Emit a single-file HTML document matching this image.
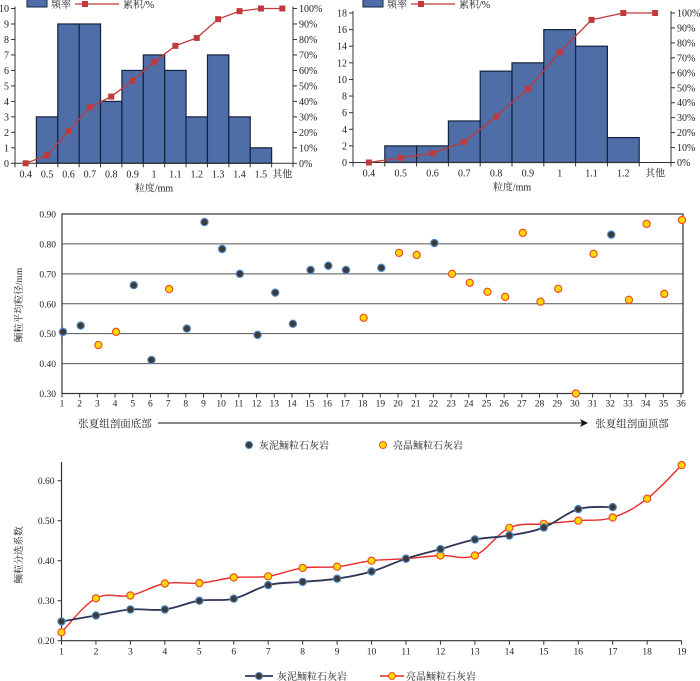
<!DOCTYPE html>
<html><head><meta charset="utf-8">
<style>
html,body{margin:0;padding:0;background:#fff;}
svg{display:block;font-family:"Liberation Serif","Noto Serif CJK SC",serif;}
</style></head>
<body>
<svg id="c" width="700" height="681" viewBox="0 0 700 681"></svg>
<script>
// ---------- data ----------
const h1Cats = ["0.4","0.5","0.6","0.7","0.8","0.9","1","1.1","1.2","1.3","1.4","1.5","其他"];
const h1Freq = [0,3,9,9,4,6,7,6,3,7,3,1,0];
const h1Cum = [0,5.2,20.7,36.2,43.1,53.4,65.5,75.9,81,93.1,98.3,100,100];
const h1LeftTicks = [0,1,2,3,4,5,6,7,8,9,10];
const h2Cats = ["0.4","0.5","0.6","0.7","0.8","0.9","1","1.1","1.2","其他"];
const h2Freq = [0,2,2,5,11,12,16,14,3,0];
const h2Cum = [0,3.1,6.2,13.8,30.8,49.2,73.8,95.4,100,100];
const h2LeftTicks = [0,2,4,6,8,10,12,14,16,18];
const pctTicks = [0,10,20,30,40,50,60,70,80,90,100];
const scIdx = [1,2,3,4,5,6,7,8,9,10,11,12,13,14,15,16,17,18,19,20,21,22,23,24,25,26,27,28,29,30,31,32,33,34,35,36];
const scVal = [0.506,0.527,0.462,0.506,0.662,0.412,0.649,0.517,0.873,0.783,0.70,0.496,0.637,0.533,0.713,0.727,0.713,0.553,0.72,0.77,0.763,0.803,0.70,0.67,0.64,0.623,0.837,0.607,0.65,0.30,0.767,0.831,0.613,0.867,0.633,0.88];
const scType = ["g","g","o","o","g","g","o","g","g","g","g","g","g","g","g","g","g","o","g","o","o","g","o","o","o","o","o","o","o","o","o","g","o","o","o","o"];
const scTicks = [0.30,0.40,0.50,0.60,0.70,0.80,0.90];
const grayLine = [0.248,0.263,0.278,0.278,0.30,0.305,0.339,0.347,0.355,0.373,0.405,0.429,0.453,0.463,0.483,0.529,0.534];
const redLine = [0.221,0.306,0.313,0.343,0.344,0.358,0.361,0.382,0.385,0.40,0.405,0.413,0.413,0.482,0.492,0.50,0.508,0.555,0.639];
const lnTicks = [0.20,0.30,0.40,0.50,0.60];

const svg = document.getElementById('c');
const NS = "http://www.w3.org/2000/svg";
function mk(tag, attrs, parent){const e=document.createElementNS(NS,tag);for(const k in attrs)e.setAttribute(k,attrs[k]);(parent||svg).appendChild(e);return e;}
function txt(s,x,y,size,anchor,parent){const t=mk('text',{x:x,y:y,'font-size':size,'text-anchor':anchor||'middle',fill:'#222'},parent);t.textContent=s;return t;}

// ---------- histogram ----------
function hist(o){
  const g=mk('g',{});
  
  
  const n=o.cats.length, slot=(o.x1-o.x0)/n;
  const xc=i=>o.x0+slot*(i+0.5);
  const yL=v=>o.yb-(v/o.maxL)*(o.yb-o.yt);
  const yR=v=>o.yb-(v/100)*(o.yb-o.yt);
  o.freq.forEach((v,i)=>{ if(v<=0)return;
    const r=mk('rect',{x:xc(i)-slot/2,y:yL(v),width:slot,height:o.yb-yL(v),fill:'#4f6ea8',stroke:'#15223d','stroke-width':1.2},g);
    
    
  });
  mk('line',{x1:o.x0,y1:o.yt-2,x2:o.x0,y2:o.yb,stroke:'#333'},g);
  mk('line',{x1:o.x1,y1:o.yt-2,x2:o.x1,y2:o.yb,stroke:'#333'},g);
  mk('line',{x1:o.x0,y1:o.yb,x2:o.x1,y2:o.yb,stroke:'#333'},g);
  o.leftTicks.forEach(v=>{mk('line',{x1:o.x0-4,y1:yL(v),x2:o.x0,y2:yL(v),stroke:'#333'},g);txt(String(v),o.x0-6,yL(v)+3.5,10,'end',g);});
  pctTicks.forEach(v=>{mk('line',{x1:o.x1,y1:yR(v),x2:o.x1+4,y2:yR(v),stroke:'#333'},g);txt(v+'%',o.x1+6,yR(v)+3.5,10,'start',g);});
  for(let i=0;i<=n;i++){mk('line',{x1:o.x0+slot*i,y1:o.yb,x2:o.x0+slot*i,y2:o.yb+4,stroke:'#333'},g);}
  o.cats.forEach((c,i)=>txt(c,xc(i),o.yb+14,10,'middle',g));
  const pts=o.cum.map((v,i)=>xc(i)+','+yR(v)).join(' ');
  const pl=mk('polyline',{points:pts,fill:'none',stroke:'#c0393b','stroke-width':1.3},g);
  
  
  o.cum.forEach((v,i)=>{const r=mk('rect',{x:xc(i)-3,y:yR(v)-3,width:6,height:6,fill:'#c0393b'},g);
    
    });
  const xt=txt('粒度/mm',(o.x0+o.x1)/2,o.yb+28,10,'middle',g);
  
  
  // legend
  const lg=mk('g',{},g);
  
  
  mk('rect',{x:o.lx,y:-1,width:20,height:8,fill:'#4f6ea8',stroke:'#15223d'},lg);
  txt('频率',o.lx+24,8,10,'start',lg);
  mk('line',{x1:o.lx+48,y1:4,x2:o.lx+92,y2:4,stroke:'#c0393b','stroke-width':1.3},lg);
  mk('rect',{x:o.lx+55,y:1,width:6,height:6,fill:'#c0393b'},lg);
  txt('累积/%',o.lx+96,8,10,'start',lg);
}
hist({name:'histogram-left',cats:h1Cats,freq:h1Freq,cum:h1Cum,leftTicks:h1LeftTicks,maxL:10,x0:15,x1:293,yt:8.5,yb:163.3,lx:27});
hist({name:'histogram-right',cats:h2Cats,freq:h2Freq,cum:h2Cum,leftTicks:h2LeftTicks,maxL:18,x0:353,x1:671,yt:13,yb:162.5,lx:363});

// ---------- scatter ----------
(function(){
  const g=mk('g',{});
  
  
  const x0=62,x1=683,yt=214,yb=393.5;
  const xs=i=>62+(i-1)*(681-62)/35;
  const ys=v=>yb-(v-0.30)/0.60*(yb-yt);
  scTicks.forEach(v=>{
    if(v>0.31&&v<0.89) mk('line',{x1:x0,y1:ys(v),x2:x1,y2:ys(v),stroke:'#555','stroke-width':1},g);
    txt(v.toFixed(2),x0-6,ys(v)+3.5,9.5,'end',g);
  });
  mk('rect',{x:x0,y:yt,width:x1-x0,height:yb-yt,fill:'none',stroke:'#333','stroke-width':1.2},g);
  scIdx.forEach(i=>{mk('line',{x1:xs(i),y1:yb,x2:xs(i),y2:yb+4,stroke:'#333'},g);txt(String(i),xs(i),yb+13,9.5,'middle',g);});
  scIdx.forEach((i,k)=>{
    const gr=scType[k]==='g';
    const c=mk('circle',{cx:xs(i)+1,cy:ys(scVal[k]),r:3.6,fill:gr?'#3f3a33':'#ffd800',stroke:gr?'#4a86c8':'#e8542a','stroke-width':1.2},g);
    
    
  });
  const yt2=txt('鲕粒平均粒径/mm',0,0,9.5,'middle',g);
  yt2.setAttribute('transform','translate(22,305) rotate(-90)');
  
  
  txt('张夏组剖面底部',115,427,10.5,'middle',g);
  mk('line',{x1:158,y1:423,x2:582,y2:423,stroke:'#111','stroke-width':1},g);
  mk('polygon',{points:'588,423 580,419 582,423 580,427',fill:'#111'},g);
  txt('张夏组剖面顶部',632,427,10.5,'middle',g);
  mk('circle',{cx:249,cy:445,r:3.5,fill:'#3f3a33',stroke:'#4a86c8'},g);
  txt('灰泥鲕粒石灰岩',259,449,10,'start',g);
  mk('circle',{cx:383,cy:445,r:3.5,fill:'#ffd800',stroke:'#e8542a'},g);
  txt('亮晶鲕粒石灰岩',393,449,10,'start',g);
})();

// ---------- line chart ----------
(function(){
  const g=mk('g',{});
  
  
  const x0=61.5,yb=640.7,yt=462;
  const xs=i=>61.5+i*(681.6-61.5)/18;
  const ys=v=>yb-(v-0.20)/0.10*40;
  mk('line',{x1:x0,y1:yt,x2:x0,y2:yb,stroke:'#333','stroke-width':1.2},g);
  mk('line',{x1:x0,y1:yb,x2:xs(18),y2:yb,stroke:'#333','stroke-width':1.2},g);
  lnTicks.forEach(v=>{mk('line',{x1:x0-4,y1:ys(v),x2:x0,y2:ys(v),stroke:'#333'},g);txt(v.toFixed(2),x0-7,ys(v)+3.5,9.5,'end',g);});
  for(let i=0;i<19;i++){mk('line',{x1:xs(i),y1:yb,x2:xs(i),y2:yb+4,stroke:'#333'},g);txt(String(i+1),xs(i),yb+14,9.5,'middle',g);}
  function smooth(vals){
    const p=vals.map((v,i)=>[xs(i),ys(v)]);
    let d='M'+p[0][0]+','+p[0][1];
    for(let i=0;i<p.length-1;i++){
      const a=p[i-1]||p[i],b=p[i],c=p[i+1],e=p[i+2]||c;
      const t=0.18;
      d+=' C'+(b[0]+(c[0]-a[0])*t)+','+(b[1]+(c[1]-a[1])*t)+' '+(c[0]-(e[0]-b[0])*t)+','+(c[1]-(e[1]-b[1])*t)+' '+c[0]+','+c[1];
    }
    return d;
  }
  const lr=mk('path',{d:smooth(redLine),fill:'none',stroke:'#e82a2a','stroke-width':1.4},g);
  
  
  const lg=mk('path',{d:smooth(grayLine),fill:'none',stroke:'#2f3557','stroke-width':1.8},g);
  
  
  redLine.forEach((v,i)=>{const c=mk('circle',{cx:xs(i),cy:ys(v),r:3.6,fill:'#ffd800',stroke:'#e8542a','stroke-width':1.2},g);
    
    });
  grayLine.forEach((v,i)=>{const c=mk('circle',{cx:xs(i),cy:ys(v),r:3.6,fill:'#3f3a33',stroke:'#4a86c8','stroke-width':1.2},g);
    
    });
  const yt2=txt('鲕粒分选系数',0,0,9.5,'middle',g);
  yt2.setAttribute('transform','translate(22,555) rotate(-90)');
  
  
  mk('line',{x1:245,y1:676,x2:273,y2:676,stroke:'#2f3557','stroke-width':1.8},g);
  mk('circle',{cx:259,cy:676,r:3.5,fill:'#3f3a33',stroke:'#4a86c8'},g);
  txt('灰泥鲕粒石灰岩',277,680,10,'start',g);
  mk('line',{x1:380,y1:676,x2:404,y2:676,stroke:'#e82a2a','stroke-width':1.4},g);
  mk('circle',{cx:392,cy:676,r:3.5,fill:'#ffd800',stroke:'#e8542a'},g);
  txt('亮晶鲕粒石灰岩',406,680,10,'start',g);
})();
</script>
</body></html>
